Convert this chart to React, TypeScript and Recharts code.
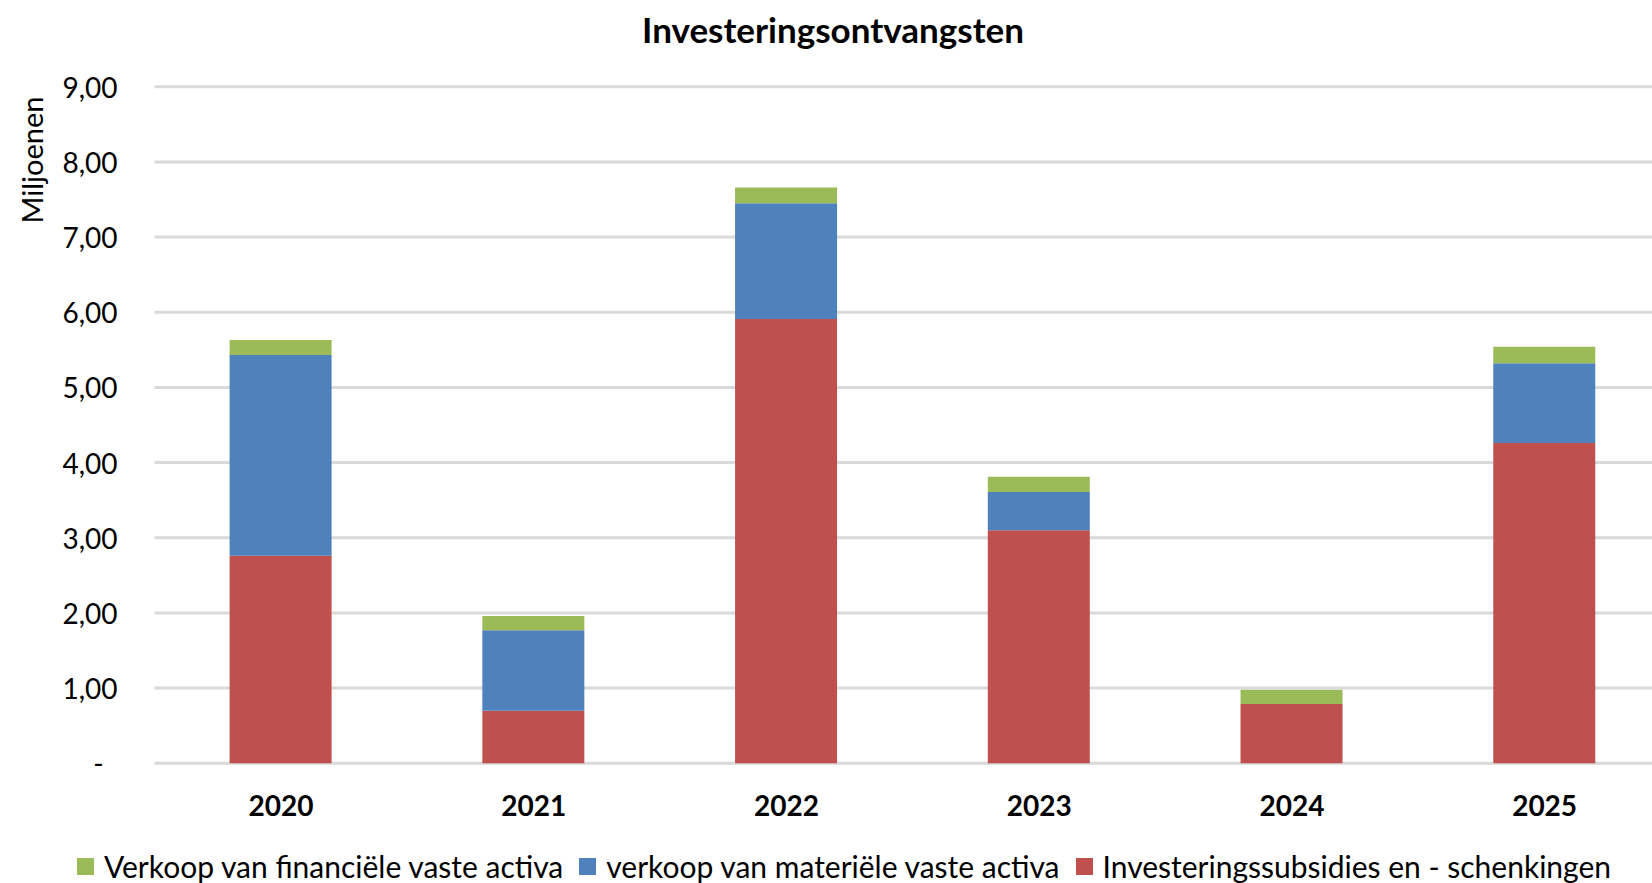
import { BarChart, Bar, XAxis, YAxis, CartesianGrid } from 'recharts';

const years = ['2020', '2021', '2022', '2023', '2024', '2025'];
const subsidies = [2.76, 0.7, 5.91, 3.1, 0.79, 4.26];
const materieel = [2.67, 1.07, 1.54, 0.51, 0, 1.06];
const financieel = [0.2, 0.19, 0.21, 0.2, 0.19, 0.22];
const yTicks = [0, 1, 2, 3, 4, 5, 6, 7, 8, 9];

const series = [
  { key: 'financieel', name: 'Verkoop van financiële vaste activa', color: '#9bbb59' },
  { key: 'materieel', name: 'verkoop van materiële vaste activa', color: '#4f81bd' },
  { key: 'subsidies', name: 'Investeringssubsidies en - schenkingen', color: '#c0504d' },
];

const data = years.map((year, i) => ({
  year,
  subsidies: subsidies[i],
  materieel: materieel[i],
  financieel: financieel[i],
}));

const FONT = 'Lato, "Noto Sans", sans-serif';

const fmt = (v: number) => (v === 0 ? '-' : v.toFixed(2).replace('.', ','));

function YTick({ x, y, payload }: any) {
  const zero = payload.value === 0;
  return (
    <text
      x={zero ? x - 14 : x}
      y={y}
      textAnchor="end"
      dominantBaseline="central"
      fontFamily={FONT}
      fontSize={28}
      fill="#000"
    >
      {fmt(payload.value)}
    </text>
  );
}

function XTick({ x, y, payload }: any) {
  return (
    <text
      x={x}
      y={y + 34}
      textAnchor="middle"
      dominantBaseline="central"
      fontFamily={FONT}
      fontSize={28}
      fontWeight="bold"
      fill="#000"
    >
      {payload.value}
    </text>
  );
}

export default function App() {
  return (
    <div
      style={{
        position: 'absolute',
        left: 0,
        top: 0,
        width: 1652,
        height: 883,
        overflow: 'hidden',
        background: '#fff',
        fontFamily: FONT,
      }}
    >
      <div
        style={{
          position: 'absolute',
          left: 0,
          top: 7,
          width: 1666,
          textAlign: 'center',
          fontSize: 35,
          fontWeight: 'bold',
          color: '#000',
          lineHeight: '44px',
        }}
      >
        Investeringsontvangsten
      </div>

      <BarChart
        width={1680}
        height={883}
        data={data}
        margin={{ top: 86.7, right: 9, bottom: 89.7, left: 0 }}
      >
        <CartesianGrid vertical={false} stroke="#d9d9d9" strokeWidth={3} />
        <XAxis
          dataKey="year"
          height={30}
          axisLine={false}
          tickLine={false}
          tick={<XTick />}
          interval={0}
        />
        <YAxis
          width={154.6}
          domain={[0, 9]}
          ticks={yTicks}
          interval={0}
          axisLine={false}
          tickLine={false}
          tickSize={0}
          tickMargin={37}
          tick={<YTick />}
          label={{
            content: () => (
              <text
                x={31}
                y={160}
                transform="rotate(-90, 31, 160)"
                textAnchor="middle"
                dominantBaseline="central"
                fontFamily={FONT}
                fontSize={29}
                fill="#000"
              >
                Miljoenen
              </text>
            ),
          }}
        />
        <Bar dataKey="subsidies" stackId="a" fill="#c0504d" barSize={102} isAnimationActive={false} />
        <Bar dataKey="materieel" stackId="a" fill="#4f81bd" barSize={102} isAnimationActive={false} />
        <Bar dataKey="financieel" stackId="a" fill="#9bbb59" barSize={102} isAnimationActive={false} />
      </BarChart>

      <div
        style={{
          position: 'absolute',
          left: 0,
          top: 848,
          width: 1704,
          display: 'flex',
          justifyContent: 'center',
          alignItems: 'center',
          fontSize: 30,
          color: '#000',
          lineHeight: '36px',
        }}
      >
        {series.map((s) => (
          <div key={s.key} style={{ display: 'flex', alignItems: 'center', marginRight: 16 }}>
            <span style={{ display: 'inline-block', width: 17, height: 17, background: s.color, marginRight: 10 }} />
            <span>{s.name}</span>
          </div>
        ))}
      </div>
    </div>
  );
}
